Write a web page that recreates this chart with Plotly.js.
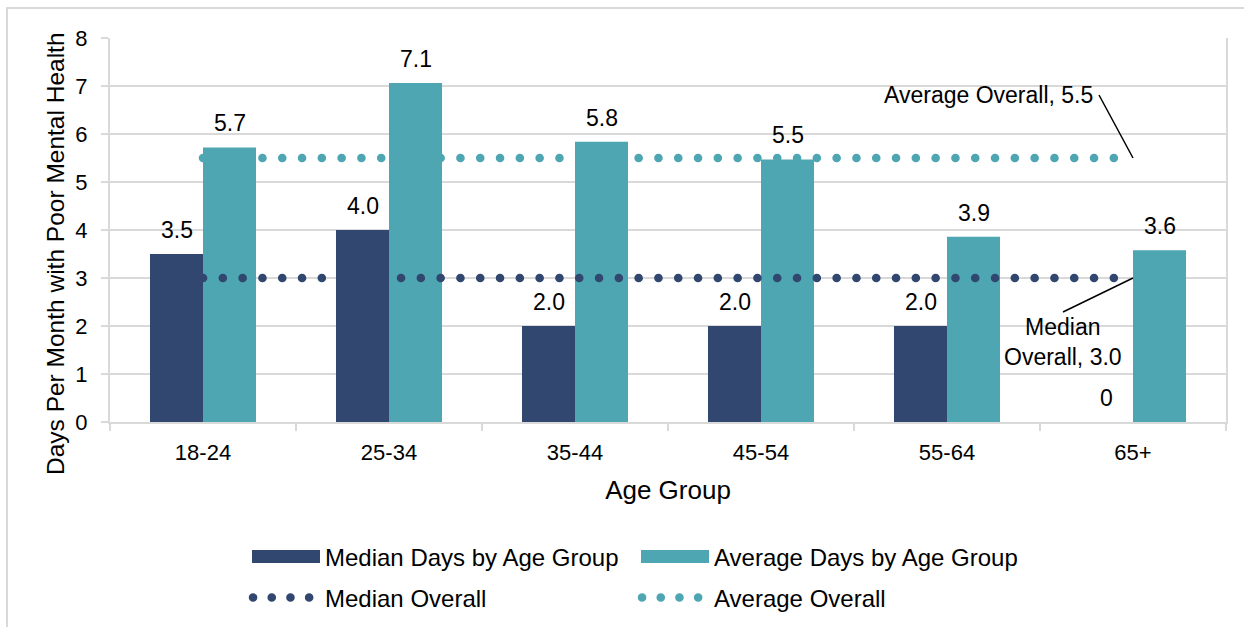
<!DOCTYPE html>
<html>
<head>
<meta charset="utf-8">
<script src="https://cdn.plot.ly/plotly-3.0.1.min.js"></script>
<style>
  body { margin: 0; background: #fff; }
  #wrap { position: relative; width: 1244px; height: 627px; overflow: hidden; }
  #chart { position: absolute; left: 0; top: 0; width: 1244px; height: 627px; }
  #frame { position: absolute; left: 6px; top: 7px; width: 1400px; height: 800px;
           border-left: 2px solid #d9d9d9; border-top: 2px solid #d9d9d9; pointer-events: none; }
  .scatterlayer .js-line { stroke-linecap: round; }
  .legend3 .legendlines path, .legend4 .legendlines path {
    d: path("M6,0h57"); stroke-linecap: round;
    stroke-dasharray: 0.1px 18.6px !important; stroke-width: 8.5px !important; }
  .legend .legendpoints path, .legend2 .legendpoints path {
    d: path("M5,-6.5h68v13h-68Z"); transform: none; }
</style>
</head>
<body>
<div id="wrap"><div id="chart"></div><div id="frame"></div></div>
<script>
const ageGroups = ['18-24', '25-34', '35-44', '45-54', '55-64', '65+'];
const medianDays = [3.5, 4.0, 2.0, 2.0, 2.0, 0];
const averageDays = [5.72, 7.06, 5.84, 5.47, 3.86, 3.58];
const medianOverall = [3.0, 3.0, 3.0, 3.0, 3.0, 3.0];
const averageOverall = [5.5, 5.5, 5.5, 5.5, 5.5, 5.5];
const yTicks = [0, 1, 2, 3, 4, 5, 6, 7, 8];

const navy = '#31476f';
const teal = '#4ea6b2';
const FONT = 'Liberation Sans, Arial, sans-serif';
const fmt = v => (v === 0 ? '0' : v.toFixed(1));

const BW = 0.285;

const traces = [
  { // bottom layer: average overall dots
    type: 'scatter', mode: 'lines', name: 'Average Overall',
    x: ageGroups, y: averageOverall, xaxis: 'x', yaxis: 'y',
    line: { color: teal, width: 8.5, dash: '0.1px,19.7px' },
    legend: 'legend4', hoverinfo: 'skip'
  },
  {
    type: 'bar', name: 'Average Days by Age Group',
    x: ageGroups, y: averageDays, xaxis: 'x2', yaxis: 'y2',
    offset: 0, width: BW, marker: { color: teal },
    legend: 'legend2'
  },
  {
    type: 'scatter', mode: 'lines', name: 'Median Overall',
    x: ageGroups, y: medianOverall, xaxis: 'x2', yaxis: 'y2',
    line: { color: navy, width: 8.5, dash: '0.1px,19.7px' },
    legend: 'legend3', hoverinfo: 'skip'
  },
  {
    type: 'bar', name: 'Median Days by Age Group',
    x: ageGroups, y: medianDays, xaxis: 'x3', yaxis: 'y3',
    offset: -BW, width: BW, marker: { color: navy },
    legend: 'legend'
  }
];

const W = 1244, H = 627;
const PW = 1116, PH = 384;
const lx = px => (px - 110) / PW;
const ly = py => (422 - py) / PH;
const cx = px => px / W;
const cy = py => 1 - py / H;

const annotations = [];
ageGroups.forEach((g, i) => {
  annotations.push({ x: g, y: medianDays[i], xref: 'x', yref: 'y', text: fmt(medianDays[i]),
    showarrow: false, xshift: -26.5, yshift: 24, yanchor: 'middle',
    font: { family: FONT, size: 23, color: '#000' } });
  annotations.push({ x: g, y: averageDays[i], xref: 'x', yref: 'y', text: fmt(averageDays[i]),
    showarrow: false, xshift: 26.5, yshift: 24, yanchor: 'middle',
    font: { family: FONT, size: 23, color: '#000' } });
});
const last = ageGroups.length - 1;
annotations.push({
  x: ageGroups[last], y: averageOverall[last], xref: 'x', yref: 'y',
  text: 'Average Overall, ' + averageOverall[last].toFixed(1),
  showarrow: true, arrowhead: 0, arrowwidth: 1.5, arrowcolor: '#000',
  ax: -34, ay: -63, xanchor: 'right', yanchor: 'middle', standoff: 0, borderpad: 5,
  font: { family: FONT, size: 23, color: '#000' }
});
annotations.push({
  x: ageGroups[last], y: medianOverall[last], xref: 'x', yref: 'y',
  text: 'Median<br>Overall, ' + medianOverall[last].toFixed(1),
  showarrow: true, arrowhead: 0, arrowwidth: 1.5, arrowcolor: '#000',
  ax: -70, ay: 34, xanchor: 'center', yanchor: 'top', standoff: 0,
  font: { family: FONT, size: 23, color: '#000' }
});
// y-axis title (placed as rotated text so it sits where the reference has it)
annotations.push({
  xref: 'paper', yref: 'paper', x: lx(55), y: ly(254), xanchor: 'center', yanchor: 'middle',
  text: 'Days Per Month with Poor Mental Health', textangle: -90, showarrow: false,
  font: { family: FONT, size: 24.5, color: '#000' }
});

const hidden = { type: 'category', categoryorder: 'array', categoryarray: ageGroups,
  range: [-0.5, ageGroups.length - 0.5], visible: false, overlaying: 'x', fixedrange: true };
const hiddenY = { range: [0, 8], visible: false, overlaying: 'y', fixedrange: true };

const legBase = { orientation: 'h', xanchor: 'left', yanchor: 'middle', bgcolor: 'rgba(0,0,0,0)',
  xref: 'container', yref: 'container',
  font: { family: FONT, size: 24, color: '#000' }, itemwidth: 68, itemclick: false, itemdoubleclick: false };

const layout = {
  width: W, height: H,
  margin: { l: 110, r: 18, t: 38, b: 205 },
  paper_bgcolor: '#fff', plot_bgcolor: '#fff',
  font: { family: FONT, size: 22, color: '#000' },
  barmode: 'overlay',
  xaxis: {
    type: 'category', categoryorder: 'array', categoryarray: ageGroups,
    range: [-0.5, ageGroups.length - 0.5], fixedrange: true,
    showgrid: false, showline: true, linecolor: '#d9d9d9', linewidth: 2,
    ticks: 'outside', tickson: 'boundaries', ticklen: 7, tickwidth: 2, tickcolor: '#d9d9d9',
    ticklabelstandoff: 10,
    tickfont: { family: FONT, size: 22, color: '#000' },
    title: { text: 'Age Group', font: { family: FONT, size: 26, color: '#000' }, standoff: 16 }
  },
  yaxis: {
    range: [0, 8], tickvals: yTicks, fixedrange: true,
    showgrid: true, gridcolor: '#d9d9d9', gridwidth: 2, zeroline: false,
    showline: true, mirror: true, linecolor: '#d9d9d9', linewidth: 2,
    ticks: 'outside', ticklen: 7, tickwidth: 2, tickcolor: '#d9d9d9',
    ticklabelstandoff: 9,
    tickfont: { family: FONT, size: 22, color: '#000' }
  },
  xaxis2: Object.assign({}, hidden),
  xaxis3: Object.assign({}, hidden),
  yaxis2: Object.assign({}, hiddenY),
  yaxis3: Object.assign({}, hiddenY),
  legend: Object.assign({}, legBase, { x: cx(247), y: cy(557) }),
  legend2: Object.assign({}, legBase, { x: cx(636), y: cy(557) }),
  legend3: Object.assign({}, legBase, { x: cx(247), y: cy(598) }),
  legend4: Object.assign({}, legBase, { x: cx(636), y: cy(598) }),
  annotations: annotations,
  showlegend: true
};

Plotly.newPlot('chart', traces, layout, { displayModeBar: false, staticPlot: true });
</script>
</body>
</html>
